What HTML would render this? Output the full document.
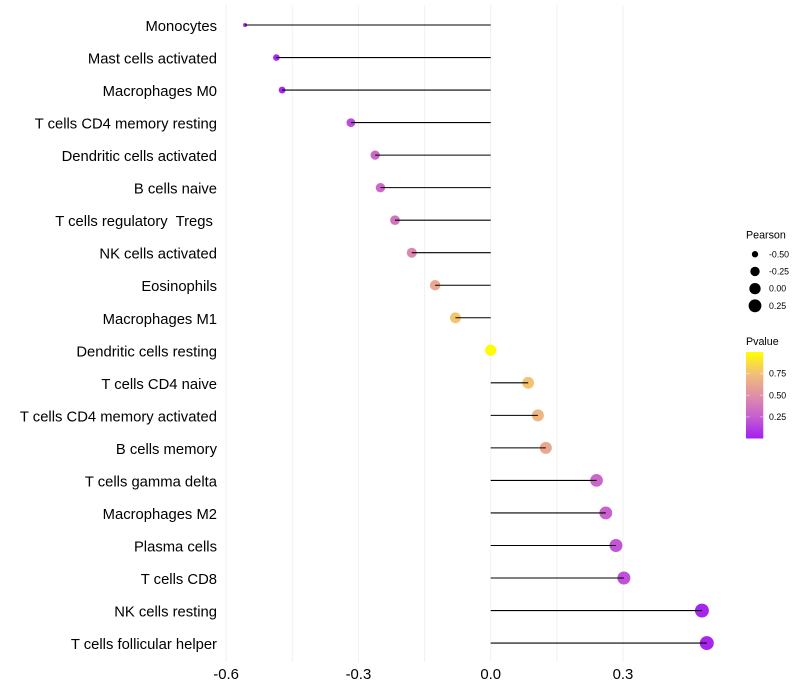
<!DOCTYPE html>
<html>
<head>
<meta charset="utf-8">
<title>Lollipop chart</title>
<style>
html,body{margin:0;padding:0;background:#fff;width:800px;height:700px;overflow:hidden}
svg{display:block;font-family:"Liberation Sans",Arial,sans-serif}
</style>
</head>
<body>
<svg id="chart" width="800" height="700" viewBox="0 0 800 700">
<defs>
<linearGradient id="pvalue-gradient" x1="0" y1="1" x2="0" y2="0">
<stop offset="0" stop-color="#a31ef0"/>
<stop offset="0.25" stop-color="#c65fd0"/>
<stop offset="0.5" stop-color="#e08fa8"/>
<stop offset="0.75" stop-color="#f2bf78"/>
<stop offset="1" stop-color="#ffff00"/>
</linearGradient>
</defs>
<g id="grid"></g>
<g id="points"></g>
<g id="stems"></g>
<g id="ylabels"></g>
<g id="xlabels"></g>
<g id="size-legend">
<text x="746" y="238.500" font-size="10.700" fill="#000">Pearson</text>
</g>
<g id="color-legend">
<text x="746" y="345" font-size="10.700" fill="#000">Pvalue</text>
<rect x="746" y="352" width="17.300" height="86.500" fill="url(#pvalue-gradient)"/>
</g>
</svg>
<script>
const categories = ["Monocytes","Mast cells activated","Macrophages M0","T cells CD4 memory resting","Dendritic cells activated","B cells naive","T cells regulatory  Tregs ","NK cells activated","Eosinophils","Macrophages M1","Dendritic cells resting","T cells CD4 naive","T cells CD4 memory activated","B cells memory","T cells gamma delta","Macrophages M2","Plasma cells","T cells CD8","NK cells resting","T cells follicular helper"];
const pearson = [-0.557,-0.486,-0.473,-0.317,-0.262,-0.25,-0.217,-0.179,-0.126,-0.08,0,0.085,0.107,0.125,0.24,0.261,0.284,0.302,0.479,0.49];
const pvalue = [0.02,0.04,0.03,0.18,0.3,0.3,0.36,0.47,0.63,0.77,0.99,0.76,0.7,0.63,0.29,0.27,0.21,0.2,0.03,0.03];
const xTicks = [-0.6,-0.3,0,0.3];
const xTickLabels = ["-0.6","-0.3","0.0","0.3"];
const xMinorTicks = [-0.45,-0.15,0.15];
const sizeLegendValues = [-0.5,-0.25,0,0.25];
const sizeLegendLabels = ["-0.50","-0.25","0.00","0.25"];
const colorLegendValues = [0.75,0.5,0.25];
const colorLegendLabels = ["0.75","0.50","0.25"];
const colorStops = [[163,30,240],[198,95,208],[224,143,168],[242,191,120],[255,255,0]];

const NS = 'http://www.w3.org/2000/svg';
function xScale(v){ return 490.7 + v * 441; }
function yScale(i){ return 25 + i * 32.53; }
const pearsonMin = Math.min.apply(null, pearson);
const pearsonMax = Math.max.apply(null, pearson);
function radius(v){
  const t = Math.max(0, Math.min(1, (v - pearsonMin) / (pearsonMax - pearsonMin)));
  return 2 + 5 * Math.sqrt(t);
}
function colorScale(p){
  const t = Math.min(1, Math.max(0, p)) * (colorStops.length - 1);
  const k = Math.min(colorStops.length - 2, Math.floor(t));
  const f = t - k;
  const c = colorStops[k].map((a, j) => Math.round(a + (colorStops[k + 1][j] - a) * f));
  return 'rgb(' + c.join(',') + ')';
}
function legendY(p){ return 438.5 - p * 86.5; }
function make(tag, attrs, parent, text){
  const el = document.createElementNS(NS, tag);
  for (const k in attrs) el.setAttribute(k, attrs[k]);
  if (text !== undefined) {
    el.textContent = text;
    el.setAttribute('xml:space', 'preserve');
    el.style.whiteSpace = 'pre';
  }
  parent.appendChild(el);
  return el;
}
const grid = document.getElementById('grid');
const pointsG = document.getElementById('points');
const stems = document.getElementById('stems');
const ylabels = document.getElementById('ylabels');
const xlabels = document.getElementById('xlabels');
const sizeLegend = document.getElementById('size-legend');
const colorLegend = document.getElementById('color-legend');

xMinorTicks.concat(xTicks).forEach(function(v){
  const el = make('line', {x1:xScale(v), x2:xScale(v), y1:5, y2:662, stroke:'#f1f1f1', 'stroke-width':1}, grid);
  
  
});
xTicks.forEach(function(v, i){
  const el = make('text', {x:xScale(v), y:679, 'font-size':14.9, 'text-anchor':'middle', fill:'#000'}, xlabels, xTickLabels[i]);
  
  
});
categories.forEach(function(name, i){
  const y = yScale(i);
  const label = make('text', {x:217, y:y + 6, 'font-size':14.8, 'text-anchor':'end', fill:'#000'}, ylabels, name);
  
  
  const pt = make('circle', {cx:xScale(pearson[i]), cy:y, r:radius(pearson[i]), fill:colorScale(pvalue[i])}, pointsG);
  
  
  const stem = make('line', {x1:xScale(0), x2:xScale(pearson[i]), y1:y, y2:y, stroke:'#000', 'stroke-width':1.07}, stems);
  
  
});
sizeLegendValues.forEach(function(v, i){
  const y = 254.2 + i * 17.2;
  const dot = make('circle', {cx:755, cy:y, r:radius(v), fill:'#000'}, sizeLegend);
  
  
  const t = make('text', {x:769, y:y + 3.1, 'font-size':8.8, fill:'#000'}, sizeLegend, sizeLegendLabels[i]);
  
  
});
colorLegendValues.forEach(function(v, i){
  const y = legendY(v);
  const a = make('line', {x1:746, x2:749.5, y1:y, y2:y, stroke:'#fff', 'stroke-width':1, 'stroke-opacity':0.45}, colorLegend);
  
  
  const b = make('line', {x1:759.8, x2:763.3, y1:y, y2:y, stroke:'#fff', 'stroke-width':1, 'stroke-opacity':0.45}, colorLegend);
  
  
  const t = make('text', {x:769, y:y + 3.1, 'font-size':8.8, fill:'#000'}, colorLegend, colorLegendLabels[i]);
  
  
});
</script>
</body>
</html>
